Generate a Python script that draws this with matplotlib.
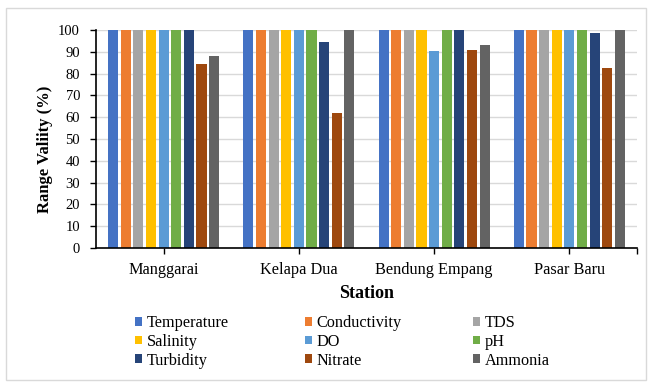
import matplotlib
matplotlib.use("Agg")
import matplotlib.pyplot as plt
import numpy as np
from matplotlib.patches import Rectangle, Patch

stations = ["Manggarai", "Kelapa Dua", "Bendung Empang", "Pasar Baru"]
params = ["Temperature", "Conductivity", "TDS", "Salinity", "DO", "pH",
          "Turbidity", "Nitrate", "Ammonia"]
temperature = [100, 100, 100, 100]
conductivity = [100, 100, 100, 100]
tds = [100, 100, 100, 100]
salinity = [100, 100, 100, 100]
do = [100, 100, 90.5, 100]
ph = [100, 100, 100, 100]
turbidity = [100, 94.5, 100, 98.5]
nitrate = [84.5, 61.8, 91, 82.5]
ammonia = [88.2, 100, 93.3, 100]
series = [temperature, conductivity, tds, salinity, do, ph, turbidity, nitrate, ammonia]
colors = ["#4472C4", "#ED7D31", "#A5A5A5", "#FFC000", "#5B9BD5", "#70AD47",
          "#264478", "#9E480E", "#636363"]

plt.rcParams['font.family'] = ['Liberation Serif', 'DejaVu Serif']

fig = plt.figure(figsize=(6.52, 3.85), dpi=100)
ax = fig.add_axes([96/652, 1-248/385, (637-96)/652, (248-30)/385])

x = np.arange(len(stations))
n = len(series)
group = 0.84
slot = group / n
handles = []
for i, (vals, c, name) in enumerate(zip(series, colors, params)):
    pos = x - group/2 + slot*(i+0.5)
    ax.bar(pos, vals, width=slot*0.8, color=c, edgecolor='none', zorder=3)
    handles.append(Patch(facecolor=c, edgecolor='none', label=name))

ax.set_xlim(-0.5, len(stations)-0.5)
ax.set_ylim(0, 100)
ax.set_yticks(np.arange(0, 101, 10))
ax.set_xticks(x)
ax.set_xticklabels(stations, fontsize=11.7)
ax.tick_params(axis='y', labelsize=10.5, length=4, width=1, direction='out', pad=7.5)
ax.tick_params(axis='x', length=4, width=1, direction='out', pad=6)
ax.set_xticks([len(stations)-0.5], minor=True)
ax.tick_params(axis='x', which='minor', length=4, width=1)
ax.grid(axis='y', color='#D9D9D9', linewidth=1, zorder=0)
for s in ['top', 'right']:
    ax.spines[s].set_visible(False)
for s in ['left', 'bottom']:
    ax.spines[s].set_linewidth(1.2)
    ax.spines[s].set_zorder(5)

ax.set_ylabel("Range Valiity (%)", fontsize=12, fontweight='bold')
ax.yaxis.set_label_coords(-43/541, (248-149)/218)
ax.set_xlabel("Station", fontsize=13, fontweight='bold')
ax.xaxis.set_label_coords(0.5, -(285-248)/218)

col_x = [135, 305, 473]
for k in range(3):
    hs = handles[k::3]
    fig.legend(handles=hs, loc='upper left', bbox_to_anchor=(col_x[k]/652, 1-315/385),
               ncol=1, frameon=False, fontsize=11.7, handlelength=0.45,
               handleheight=0.45, handletextpad=0.25, labelspacing=0.17,
               borderaxespad=0, borderpad=0)

fig.patches.append(Rectangle((6/652, 1-380/385), 640/652, 372/385,
                             transform=fig.transFigure, fill=False,
                             edgecolor='#D9D9D9', linewidth=1))

fig.savefig("out.png", dpi=100)
